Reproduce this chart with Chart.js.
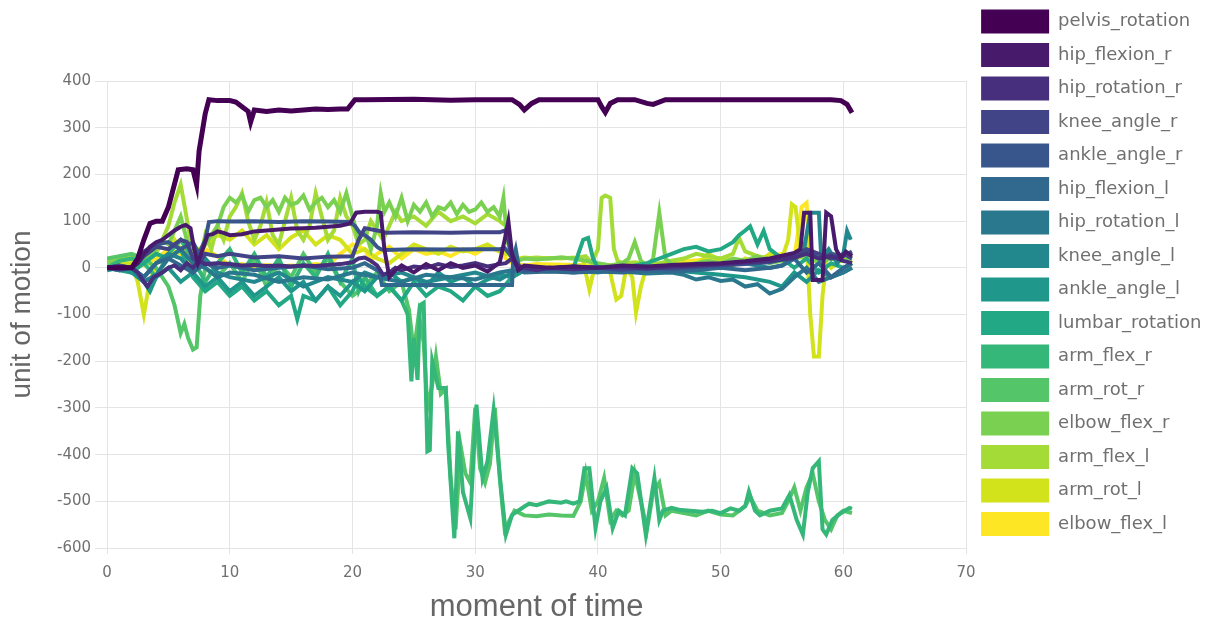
<!DOCTYPE html>
<html><head><meta charset="utf-8">
<script src="https://cdn.jsdelivr.net/npm/chart.js@4/dist/chart.umd.min.js"></script>
<style>html,body{margin:0;padding:0;background:#fff;}#wrap{width:1232px;height:621px;position:relative;}</style>
</head><body><div id="wrap"><canvas id="c"></canvas></div>
<script>
// ---- data: [moment of time, unit of motion] ----
const pelvis_rotation = [[0,0],[1,0],[2,0],[2.5,20],[3,60],[3.5,95],[4,100],[4.5,100],[5,130],[5.5,180],[5.8,210],[6.5,212],[7,210],[7.3,178],[7.5,250],[8,330],[8.3,360],[9,358],[10,358],[10.5,355],[11,345],[11.5,335],[11.7,312],[12,338],[13,335],[14,338],[15,336],[16,338],[17,340],[18,339],[19,340],[19.6,340],[20.2,360],[21,360],[25,361],[28,359],[30,360],[33,360],[33.6,350],[34,338],[34.6,352],[35.2,360],[38,360],[40,360],[40.3,345],[40.6,333],[41,352],[41.6,360],[43,360],[44,352],[44.5,350],[45.5,360],[50,360],[55,360],[59,360],[59.8,358],[60.3,350],[60.7,332]];
const hip_flexion_r = [[0,0],[1,2],[2,0],[2.5,10],[3,30],[3.5,45],[4,55],[4.5,60],[5,70],[5.5,80],[6,88],[6.4,92],[6.8,85],[7.1,40],[7.4,10],[7.8,40],[8.2,70],[8.6,72],[9,78],[9.5,75],[10,70],[11,72],[12,78],[13,80],[14,82],[15,84],[16,85],[17,86],[18,88],[19,90],[19.8,95],[20.3,118],[21,120],[22,120],[22.3,118],[22.6,40],[23,-20],[23.5,-5],[24,5],[25,-10],[26,8],[27,-5],[28,10],[29,0],[30,5],[31,-8],[32,12],[32.4,60],[32.7,100],[33,30],[33.5,-5],[34,5],[36,0],[38,3],[40,0],[42,5],[44,3],[46,6],[48,8],[50,10],[52,14],[54,20],[55,26],[56,32],[56.5,40],[56.8,118],[57.3,118],[57.5,-26],[58.3,-26],[58.6,118],[59,110],[59.4,40],[59.8,20],[60.2,35],[60.7,25]];
const hip_rotation_r = [[0,0],[1,-2],[2,0],[2.5,-10],[3,-30],[3.3,-40],[3.8,-20],[4.5,-10],[5,0],[5.5,5],[6,-5],[6.5,10],[7,0],[7.5,15],[8,8],[9,10],[10,8],[11,5],[12,6],[13,4],[14,5],[15,3],[16,5],[17,4],[18,6],[19,8],[20,12],[20.5,20],[21,22],[21.5,15],[22,5],[22.5,-15],[23,-10],[23.5,0],[24,-5],[25,3],[26,0],[27,8],[28,2],[29,5],[30,10],[31,3],[32,8],[32.5,10],[33,20],[33.5,5],[34,0],[35,-5],[36,0],[38,-3],[40,0],[42,2],[44,-2],[46,3],[48,5],[50,8],[52,12],[54,15],[55,18],[56,22],[57,30],[58,20],[59,25],[60,15],[60.7,10]];
const knee_angle_r = [[0,0],[1,5],[2,0],[2.5,10],[3,25],[4,45],[5,40],[6,60],[6.5,55],[7,20],[7.5,10],[8,30],[9,25],[10,30],[12,22],[14,25],[16,20],[18,24],[20,25],[20.5,60],[21,85],[22,80],[22.4,78],[22.7,75],[25,76],[28,75],[30,76],[32,76],[32.4,80],[32.7,60],[33,20],[33.5,0],[34,2],[36,-2],[38,3],[40,0],[42,-3],[44,2],[46,0],[48,4],[50,6],[52,10],[54,14],[55,20],[56,25],[57,40],[58,30],[59,20],[60,30],[60.7,20]];
const ankle_angle_r = [[0,0],[1,3],[2,0],[2.5,15],[3,35],[4,50],[5,55],[6,40],[7,55],[7.5,30],[8,60],[8.3,98],[9,100],[10,99],[12,100],[14,98],[16,100],[18,99],[19.8,98],[20.2,90],[20.6,75],[21,70],[21.5,60],[22,45],[22.3,40],[22.6,38],[25,40],[28,39],[30,40],[32,40],[32.4,42],[32.8,30],[33.2,15],[33.6,0],[34,-5],[36,0],[38,-3],[40,0],[42,-5],[44,0],[46,-3],[48,2],[50,5],[52,8],[54,12],[55,18],[56,20],[57,35],[58,20],[59,30],[60,25],[60.7,35]];
const hip_flexion_l = [[0,0],[1,-5],[2,0],[3,-20],[4,10],[5,20],[6,5],[7,-10],[8,10],[9,0],[10,5],[12,-5],[14,0],[16,5],[18,-3],[20,0],[21,10],[22,-5],[22.2,-10],[22.4,-37],[25,-37],[28,-37],[30,-37],[33,-37],[33.1,20],[33.3,40],[33.6,-5],[34,-10],[36,-8],[38,-10],[40,-8],[42,-10],[44,-6],[46,-8],[48,-5],[50,0],[52,-5],[54,0],[55,5],[56,20],[57,-10],[58,10],[59,-20],[60,0],[60.7,10]];
const hip_rotation_l = [[0,0],[1,-5],[2,0],[3,-30],[4,-15],[5,20],[6,40],[7,10],[8,0],[9,-20],[10,-10],[12,-15],[14,-30],[16,-20],[18,-25],[20,-10],[22,-20],[24,-30],[26,-15],[28,-20],[30,-25],[32,-10],[33,-5],[34,-8],[36,-5],[38,-10],[40,-5],[42,-8],[44,-12],[46,-10],[47,-15],[48,-25],[49,-20],[50,-28],[51,-25],[52,-40],[53,-35],[54,-55],[55,-45],[56,-20],[57,0],[58,-30],[59,-20],[60,-10],[60.7,0]];
const knee_angle_l = [[0,0],[1,5],[2,0],[3,-20],[4,10],[5,30],[6,20],[7,-10],[8,20],[9,-10],[10,-20],[12,-30],[14,-10],[16,-40],[18,-20],[20,-30],[21,-10],[22,-20],[24,-10],[26,-30],[28,-20],[30,-10],[32,-25],[33,-10],[34,0],[36,-5],[38,0],[40,2],[42,-4],[44,0],[46,-5],[48,-2],[50,5],[52,10],[54,0],[55,5],[56,20],[56.8,40],[57.3,118],[58,118],[58.2,20],[58.8,40],[59.5,10],[60,30],[60.3,79],[60.6,60]];
const ankle_angle_l = [[0,-5],[1,0],[2,-10],[3,-30],[3.5,-50],[4,-20],[5,0],[6,-30],[7,-10],[8,-40],[9,-20],[10,-50],[11,-30],[12,-60],[13,-40],[14,-20],[15,-50],[16,-30],[17,-70],[18,-40],[19,-60],[20,-30],[21,-50],[22,-20],[23,-10],[24,-30],[25,-20],[26,-40],[27,-10],[28,-30],[29,-20],[30,-40],[31,-25],[32,-15],[33,-20],[34,-5],[36,-8],[38,-5],[40,-10],[42,-3],[44,-8],[46,-5],[48,-10],[50,-15],[52,-20],[54,-30],[55,-40],[56,-10],[57,-30],[58,-5],[59,-20],[60,-10],[60.7,0]];
const lumbar_rotation = [[0,0],[1,-5],[2,-10],[3,10],[4,30],[5,20],[6,40],[7,-20],[8,-50],[9,-30],[10,-60],[11,-40],[12,-70],[13,-50],[14,-80],[15,-60],[15.5,-110],[16,-60],[17,-70],[18,-40],[19,-80],[20,-50],[20.5,-20],[21,-40],[22,-60],[23,-40],[24,-70],[25,-30],[26,-60],[27,-40],[28,-50],[29,-70],[30,-40],[31,-60],[32,-50],[33,-20],[34,-5],[35,0],[36,-3],[37,2],[38,0],[38.8,60],[39.2,64],[39.6,20],[40,0],[41,-5],[42,0],[43,5],[44,10],[45,20],[46,30],[47,40],[48,45],[49,35],[50,40],[51,55],[51.5,70],[52,80],[52.4,89],[53,50],[53.5,79],[54,40],[55,20],[56,0],[57,20],[58,-10],[59,10],[60,0],[60.7,10]];
const arm_flex_r = [[0,0],[1,15],[2,20],[3,10],[4,-20],[5,30],[6,60],[7,20],[8,-30],[9,10],[10,40],[11,-10],[12,30],[13,-20],[14,20],[15,-40],[16,10],[17,-20],[18,30],[19,-30],[20,20],[20.5,-50],[21,-20],[22,-60],[23,-40],[24,-70],[24.5,-100],[24.8,-243],[25,-150],[25.3,-240],[25.5,-80],[25.8,-75],[26.1,-393],[26.3,-390],[26.5,-200],[27,-257],[27.6,-257],[27.8,-380],[28.3,-579],[28.6,-350],[29,-480],[29.6,-536],[30.1,-293],[30.6,-450],[31,-414],[31.5,-304],[32.1,-471],[32.5,-571],[33,-529],[33.5,-520],[34,-511],[34.4,-505],[35,-508],[36,-500],[37,-503],[37.4,-500],[38,-505],[38.5,-500],[38.9,-429],[39.3,-429],[39.8,-557],[40.2,-500],[40.7,-471],[41.2,-557],[41.7,-520],[42.2,-530],[42.8,-429],[43.2,-440],[43.9,-571],[44.3,-500],[44.6,-450],[45,-540],[45.3,-520],[46,-514],[46.6,-518],[47.5,-520],[48.5,-522],[49.3,-520],[50,-525],[50.8,-515],[51.5,-520],[52,-510],[52.3,-479],[52.8,-520],[53.2,-530],[54,-520],[55,-515],[55.6,-486],[56.2,-540],[56.7,-571],[57.1,-480],[57.5,-429],[58,-414],[58.3,-560],[58.6,-571],[59.1,-540],[59.6,-529],[60.1,-520],[60.5,-514],[60.7,-516]];
const arm_rot_r = [[0,20],[1,25],[2,30],[3,20],[4,0],[5,-40],[5.5,-80],[6,-140],[6.3,-120],[6.6,-150],[7,-175],[7.3,-170],[7.6,-60],[8,0],[9,-20],[10,10],[11,-30],[12,20],[13,-40],[14,10],[15,-20],[16,30],[17,-10],[18,20],[19,-30],[20,-60],[21,-40],[22,-10],[23,-50],[24,-30],[24.6,-90],[25,-180],[25.4,-100],[25.8,-160],[26.1,-300],[26.5,-250],[26.8,-190],[27.2,-270],[27.6,-260],[28,-450],[28.4,-560],[28.8,-380],[29.2,-440],[29.6,-460],[30,-300],[30.4,-430],[30.8,-460],[31.2,-420],[31.6,-300],[32,-450],[32.4,-560],[32.8,-540],[33.2,-520],[34,-530],[35,-532],[36,-528],[37,-530],[38,-531],[38.6,-500],[39,-440],[39.5,-520],[40,-500],[40.5,-450],[41,-540],[41.5,-520],[42,-530],[42.5,-520],[43,-440],[43.5,-500],[44,-560],[44.5,-480],[45,-460],[45.5,-530],[46,-520],[47,-525],[48,-530],[49,-520],[50,-528],[51,-530],[52,-510],[52.4,-490],[53,-520],[54,-530],[55,-525],[55.5,-500],[56,-470],[56.5,-520],[57,-470],[57.5,-440],[58,-500],[58.5,-540],[59,-560],[59.5,-530],[60,-520],[60.7,-525]];
const elbow_flex_r = [[0,10],[1,15],[2,20],[2.5,25],[3,10],[3.5,30],[4,40],[4.5,60],[5,50],[5.5,80],[6,110],[6.5,60],[7,40],[7.5,30],[8,50],[8.5,70],[9,90],[9.5,130],[10,150],[10.5,140],[11,155],[11.5,120],[12,145],[12.5,150],[13,130],[13.5,145],[14,120],[14.5,150],[15,135],[15.5,140],[16,155],[16.5,125],[17,140],[17.5,150],[18,130],[18.5,145],[19,120],[19.5,160],[20,110],[20.5,60],[21,80],[21.5,40],[22,90],[22.3,160],[22.6,120],[23,140],[23.5,110],[24,150],[24.5,100],[25,135],[25.5,120],[26,140],[26.5,110],[27,130],[27.5,125],[28,140],[28.5,115],[29,135],[29.5,120],[30,125],[30.5,140],[31,120],[31.5,130],[32,110],[32.3,150],[32.6,60],[33,20],[33.5,15],[34,20],[35,18],[36,20],[37,22],[38,20],[39,15],[40,10],[41,5],[42,10],[42.5,20],[43,55],[43.5,15],[44,5],[44.5,20],[45,118],[45.5,20],[46,8],[47,5],[48,10],[49,15],[50,10],[51,20],[52,15],[53,25],[54,10],[55,15],[56,20],[57,30],[58,10],[59,20],[60,15],[60.7,20]];
const arm_flex_l = [[0,15],[1,20],[2,22],[3,15],[3.5,40],[4,30],[4.5,60],[5,90],[5.5,140],[6,178],[6.4,120],[6.8,60],[7.2,40],[7.6,20],[8,70],[8.5,40],[9,90],[9.5,60],[10,110],[10.5,130],[11,160],[11.5,100],[12,60],[12.5,90],[13,140],[13.5,70],[14,50],[14.5,100],[15,150],[15.5,80],[16,60],[16.5,90],[17,160],[17.5,110],[18,60],[18.5,80],[19,150],[19.5,110],[20,90],[20.5,50],[21,60],[21.5,100],[22,80],[22.5,60],[23,90],[23.5,120],[24,100],[25,110],[26,90],[27,120],[28,100],[29,110],[30,95],[31,115],[32,100],[32.5,90],[33,25],[33.5,18],[34,20],[35,22],[36,20],[37,22],[38,20],[39,25],[39.5,10],[40,40],[40.3,150],[40.6,155],[41,150],[41.3,40],[41.6,15],[42,10],[43,12],[44,8],[45,10],[46,15],[47,20],[48,30],[49,25],[50,20],[51,30],[51.5,64],[52,35],[53,25],[54,20],[55,15],[55.5,15],[56,20],[57,25],[58,30],[59,20],[60,15],[60.7,15]];
const arm_rot_l = [[0,5],[1,8],[2,10],[2.5,-30],[3,-100],[3.4,-40],[4,10],[5,20],[5.5,60],[6,40],[7,30],[8,50],[9,70],[10,60],[11,80],[12,50],[13,70],[14,40],[15,65],[16,80],[17,50],[18,70],[19,60],[20,30],[21,40],[22,20],[23,10],[24,30],[25,50],[26,40],[27,30],[28,45],[29,35],[30,40],[31,50],[32,35],[33,25],[33.5,20],[34,22],[35,20],[36,21],[37,20],[38,22],[38.8,15],[39.3,-46],[39.8,10],[40.3,5],[41,-10],[41.5,-68],[41.9,-60],[42.3,0],[42.8,-20],[43.1,-96],[43.5,-40],[44,5],[45,0],[46,8],[47,10],[48,5],[49,30],[50,15],[51,5],[52,20],[53,10],[54,30],[55,20],[55.5,60],[55.8,136],[56.1,130],[56.5,40],[57,60],[57.3,-100],[57.6,-190],[58,-190],[58.3,-60],[58.6,10],[59,0],[60,20],[60.7,10]];
const elbow_flex_l = [[0,0],[1,5],[2,10],[3,5],[4,20],[5,40],[6,30],[6.5,20],[7,10],[8,40],[9,25],[10,5],[11,8],[12,2],[13,6],[14,3],[15,5],[16,4],[17,8],[18,5],[19,30],[20,50],[21,40],[21.5,15],[22,30],[23,45],[24,20],[25,40],[26,30],[27,35],[28,25],[29,40],[30,30],[31,45],[32,35],[32.5,20],[33,10],[34,5],[35,8],[40,5],[45,10],[50,20],[52,15],[54,25],[55,30],[56,20],[56.6,130],[57,139],[57.2,60],[57.5,20],[58,10],[59,30],[60,25],[60.7,20]];

const seriesNames = ['pelvis_rotation','hip_flexion_r','hip_rotation_r','knee_angle_r','ankle_angle_r','hip_flexion_l','hip_rotation_l','knee_angle_l','ankle_angle_l','lumbar_rotation','arm_flex_r','arm_rot_r','elbow_flex_r','arm_flex_l','arm_rot_l','elbow_flex_l'];
const seriesValues = [pelvis_rotation,hip_flexion_r,hip_rotation_r,knee_angle_r,ankle_angle_r,hip_flexion_l,hip_rotation_l,knee_angle_l,ankle_angle_l,lumbar_rotation,arm_flex_r,arm_rot_r,elbow_flex_r,arm_flex_l,arm_rot_l,elbow_flex_l];
const xTickValues = [0,10,20,30,40,50,60,70];
const yTickValues = [-600,-500,-400,-300,-200,-100,0,100,200,300,400];

// ---- styles ----
const palette = ['#440154','#481a6c','#472f7d','#414487','#39568c','#31688e','#2a788e','#23888e','#1f988b','#22a884','#35b779','#54c568','#7ad151','#a5db36','#d2e21b','#fde725'];
const GRID = '#e4e4e4';
const TXT = '#707070';
const LEGEND_SHIFT = 5.5;

const datasets = seriesNames.map((name, i) => ({
  label: name,
  data: seriesValues[i].map(p => ({x: p[0], y: p[1]})),
  borderColor: palette[i],
  backgroundColor: palette[i],
  borderWidth: i === 0 ? 5 : 4,
  pointRadius: 0,
  tension: 0,
  fill: false
}));

const legendShift = {
  id: 'legendShift',
  afterLayout(chart) {
    const lg = chart.legend;
    if (!lg) return;
    lg.left += LEGEND_SHIFT;
    lg.right += LEGEND_SHIFT;
    if (lg.legendHitBoxes) lg.legendHitBoxes.forEach(h => { h.left += LEGEND_SHIFT; });
  }
};

new Chart(document.getElementById('c'), {
  type: 'line',
  data: { datasets },
  plugins: [legendShift],
  options: {
    responsive: true,
    maintainAspectRatio: false,
    animation: false,
    devicePixelRatio: 1,
    layout: { padding: { left: 0, right: 26, top: 0, bottom: 0 } },
    plugins: {
      tooltip: { enabled: false },
      legend: {
        position: 'right',
        align: 'start',
        labels: {
          boxWidth: 68,
          boxHeight: 24,
          padding: 9.5,
          color: '#707070',
          font: { family: 'DejaVu Sans', size: 18 },
          generateLabels: (chart) => Chart.defaults.plugins.legend.labels.generateLabels(chart).map(it => Object.assign(it, { lineWidth: 0 }))
        }
      }
    },
    scales: {
      x: {
        type: 'linear',
        min: 0, max: 70,
        afterBuildTicks: s => { s.ticks = xTickValues.map(v => ({ value: v })); },
        grid: { color: GRID, tickLength: 6 },
        border: { color: GRID },
        ticks: { color: TXT, padding: 12, maxRotation: 0, font: { family: 'DejaVu Sans', size: 15, lineHeight: 1 } },
        title: { display: true, text: 'moment of time', color: '#666', padding: { top: 0, bottom: 0 }, font: { family: 'Liberation Sans', size: 31, lineHeight: 0.9 } }
      },
      xTop: {
        type: 'linear', position: 'top', min: 0, max: 70, display: true,
        grid: { display: false, drawTicks: false },
        border: { display: false },
        ticks: { display: false },
        afterFit: s => { s.height = 81; }
      },
      y: {
        type: 'linear',
        min: -600, max: 400,
        afterBuildTicks: s => { s.ticks = yTickValues.map(v => ({ value: v })); },
        grid: { color: GRID, tickLength: 12 },
        border: { color: GRID },
        ticks: { color: TXT, padding: 4, font: { family: 'DejaVu Sans', size: 15, lineHeight: 1 } },
        title: { display: true, text: 'unit of motion', color: '#666', padding: { top: 8, bottom: 17 }, font: { family: 'Liberation Sans', size: 28, lineHeight: 1 } }
      }
    }
  }
});
</script></body></html>
